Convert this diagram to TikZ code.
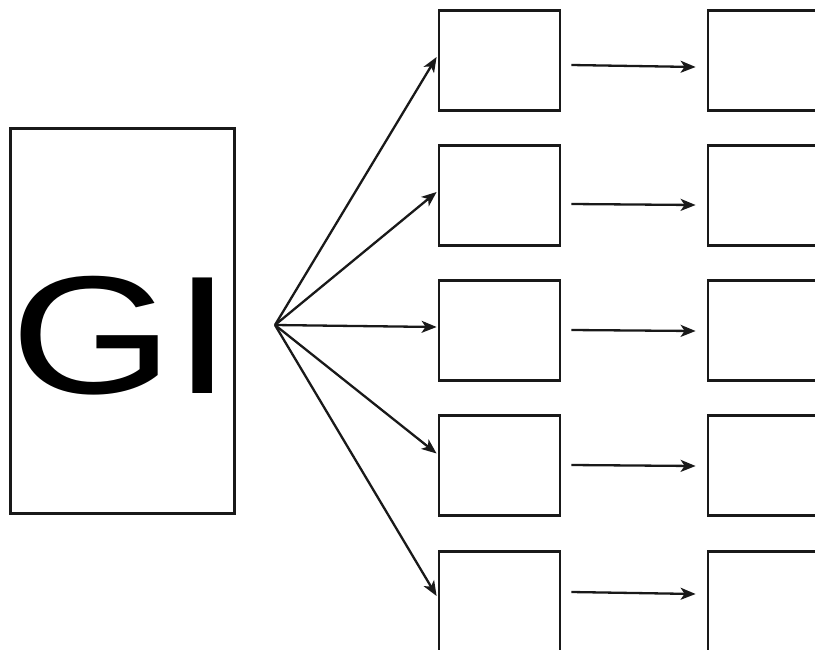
\documentclass[tikz,border=0pt]{standalone}
\usepackage{fontspec}
\setmainfont{Liberation Sans}
\usetikzlibrary{arrows.meta,calc}
\begin{document}
\begin{tikzpicture}[x=1pt,y=-1pt,
  box/.style={draw=black!90,line width=2.8pt,minimum width=121pt,minimum height=100pt,inner sep=0pt},
  conn/.style={line width=2.3pt,draw=black!90,-{Stealth[length=15pt,width=12pt,inset=4pt]}},
  bigbox/.style={draw=black!90,line width=3pt,minimum width=224pt,minimum height=385pt,inner sep=0pt}]
\useasboundingbox (0,0) rectangle (815,649);
\clip (0,0) rectangle (815,649);
\node[bigbox] (gi) at (122,320.5) {};
\node[anchor=base,inner sep=0pt,font=\fontsize{168}{168}\selectfont] (gitext) at (121,393) {\scalebox{1.25}[1]{GI}};
\coordinate (o) at (275,325);
\foreach \i/\y in {1/60.5,2/195.5,3/330.5,4/465.5,5/601.5}{
  \node[box] (m\i) at (499.5,\y) {};
  \node[box] (r\i) at (768.5,\y) {};
}
\draw[conn] (o) -- ($(m1.west)+(-1,-3.5)$);
\draw[conn] (o) -- ($(m2.west)+(-1,-3.5)$);
\draw[conn] (o) -- ($(m3.west)+(-1,-3.5)$);
\draw[conn] (o) -- ($(m4.west)+(-1,-12)$);
\draw[conn] (o) -- ($(m5.west)+(-1,-5.5)$);
\foreach \i/\a/\b in {1/4.5/6.5,2/8.5/9.5,3/-0.5/0.5,4/-0.5/0.5,5/-9.5/-7.5}{
  \draw[conn] ($(m\i.east)+(10,\a)$) -- ($(r\i.west)+(-11,\b)$);
}
\end{tikzpicture}
\end{document}
